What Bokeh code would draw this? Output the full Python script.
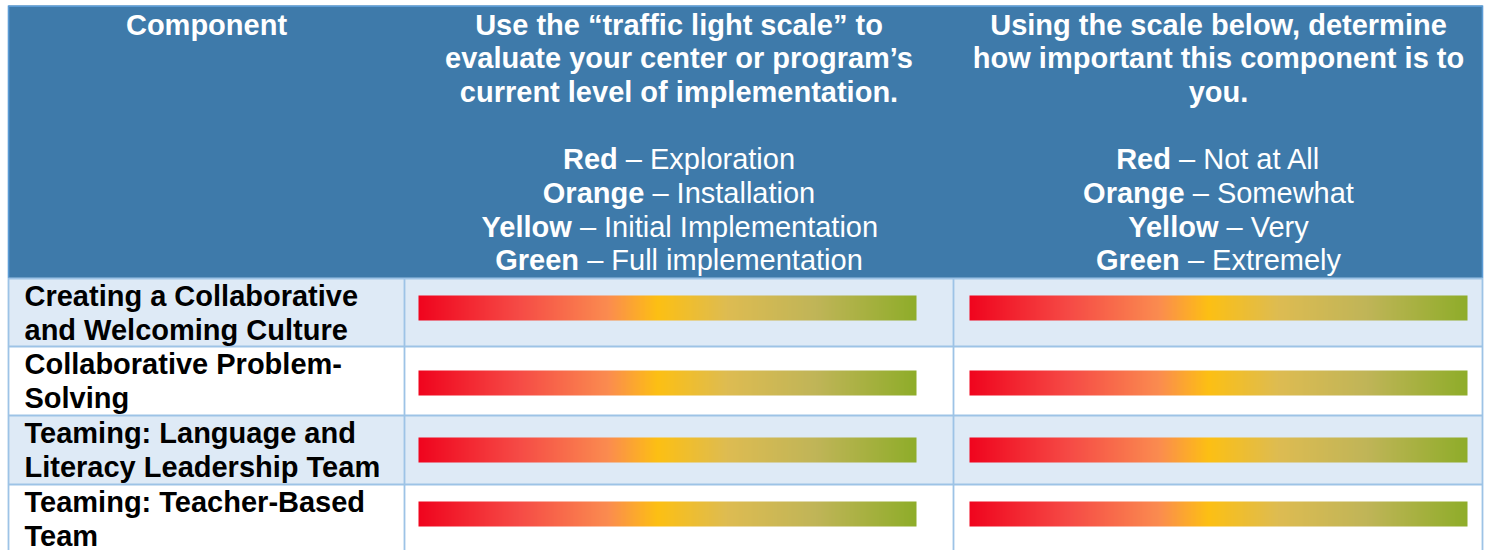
import numpy as np
from bokeh.plotting import figure
from bokeh.models import Range1d
from bokeh.embed import file_html
from bokeh.resources import INLINE
from bokeh.core.properties import value

# ---------------- data ----------------
header_component = "Component"
header_level = ["Use the \u201ctraffic light scale\u201d to",
                "evaluate your center or program\u2019s",
                "current level of implementation."]
header_importance = ["Using the scale below, determine",
                     "how important this component is to",
                     "you."]
scale_colors = ["Red", "Orange", "Yellow", "Green"]
level_labels = ["Exploration", "Installation", "Initial Implementation", "Full implementation"]
importance_labels = ["Not at All", "Somewhat", "Very", "Extremely"]
components = ["Creating a Collaborative\nand Welcoming Culture",
              "Collaborative Problem-\nSolving",
              "Teaming: Language and\nLiteracy Leadership Team",
              "Teaming: Teacher-Based\nTeam"]

# ---------------- styling / layout ----------------
FONT = value("Liberation Sans")
FS = 29
HEADER_BG = "#3E7AAA"
HEADER_EDGE = "#5B9BD5"
ROW_BG = ["#DEEAF6", "#FFFFFF"]
GRID = "#9DC3E6"
col_edges = [8, 404, 953, 1482]
header_top, header_bottom = 5, 278
row_h = [68, 69, 69, 69]
bar_offsets = [17, 24, 22, 17]
bar_h = 25
bar_x = [(418, 916), (969, 1467)]
line_gap = 33.7
TEXT_DY = -10
W, H = 1487, 550

# Arial/Liberation Sans advance widths (1/1000 em)
_lc = "abcdefghijklmnopqrstuvwxyz"
_uc = "ABCDEFGHIJKLMNOPQRSTUVWXYZ"
REG = dict(zip(_lc, [556,556,500,556,556,278,556,556,222,222,500,222,833,556,556,556,556,333,500,278,556,500,722,500,500,500]))
REG.update(zip(_uc, [667,667,722,722,667,611,778,722,278,500,667,556,833,722,778,667,778,722,667,611,722,667,944,667,667,611]))
REG.update({" ": 278, "\u2013": 556, ".": 278, ",": 278, "-": 333, ":": 278})
BOLD = dict(zip(_lc, [556,611,556,611,556,333,611,611,278,278,556,278,889,611,611,611,611,389,556,333,611,556,778,556,556,500]))
BOLD.update(zip(_uc, [722,722,722,722,667,611,778,722,278,556,722,611,833,722,778,667,778,722,667,611,722,667,944,667,667,611]))
BOLD.update({" ": 278, "\u2013": 556, ".": 278, ",": 278, "-": 333, ":": 333})


def tw(s, table):
    return sum(table.get(c, 556) for c in s) * FS / 1000.0


def Y(py):
    return -py


def TY(py):
    return -(py + TEXT_DY)


p = figure(width=W, height=H, x_range=Range1d(0, W), y_range=Range1d(-H, 0),
           toolbar_location=None, output_backend="svg", x_axis_type=None, y_axis_type=None,
           min_border=0, outline_line_color=None, background_fill_color="white",
           border_fill_color="white")
p.grid.visible = False

# header background
p.quad(left=[col_edges[0]], right=[col_edges[-1]], top=[Y(header_top)], bottom=[Y(header_bottom)],
       fill_color=HEADER_BG, line_color=None)

# row backgrounds
row_edges = [header_bottom]
for h in row_h:
    row_edges.append(row_edges[-1] + h)
nrow = len(components)
p.quad(left=[col_edges[0]] * nrow, right=[col_edges[-1]] * nrow,
       top=[Y(row_edges[i]) for i in range(nrow)],
       bottom=[Y(row_edges[i + 1]) for i in range(nrow)],
       fill_color=[ROW_BG[i % 2] for i in range(nrow)], line_color=None)

# header outline (top, left, right)
p.multi_line(xs=[[col_edges[0], col_edges[-1]], [col_edges[0], col_edges[0]], [col_edges[-1], col_edges[-1]]],
             ys=[[Y(header_top + 0.8), Y(header_top + 0.8)], [Y(header_top), Y(header_bottom)],
                 [Y(header_top), Y(header_bottom)]],
             line_color=HEADER_EDGE, line_width=1.6)

# grid lines
xs, ys = [], []
for r in row_edges[:-1]:
    xs.append([col_edges[0], col_edges[-1]]); ys.append([Y(r), Y(r)])
for c in col_edges:
    xs.append([c, c]); ys.append([Y(header_bottom), Y(row_edges[-1] + 10)])
p.multi_line(xs=xs, ys=ys, line_color=GRID, line_width=1.8)

# gradient (traffic light) bars
stop_pos = [0.0, 0.2, 0.38, 0.48, 0.62, 0.8, 1.0]
stop_rgb = [(240, 5, 30), (246, 75, 70), (251, 140, 80), (253, 192, 20),
            (222, 188, 82), (192, 181, 88), (143, 173, 42)]
n = 600
t = np.linspace(0, 1, n)
img = np.empty((1, n), dtype=np.uint32)
view = img.view(dtype=np.uint8).reshape((1, n, 4))
for k in range(3):
    view[0, :, k] = np.interp(t, stop_pos, [c[k] for c in stop_rgb]).astype(np.uint8)
view[0, :, 3] = 255

bx, by, bw = [], [], []
for i in range(nrow):
    top = row_edges[i] + bar_offsets[i]
    for (x0, x1) in bar_x:
        bx.append(x0); by.append(Y(top + bar_h)); bw.append(x1 - x0)
p.image_rgba(image=[img] * len(bx), x=bx, y=by, dw=bw, dh=[bar_h] * len(bx))

# header texts
cx = [(col_edges[i] + col_edges[i + 1]) / 2 for i in range(3)]
cx[2] = 1218
base0 = 34
hx, hy, ht = [cx[0]], [TY(base0)], [header_component]
for j, s in enumerate(header_level):
    hx.append(cx[1]); hy.append(TY(base0 + j * line_gap)); ht.append(s)
for j, s in enumerate(header_importance):
    hx.append(cx[2]); hy.append(TY(base0 + j * line_gap)); ht.append(s)
p.text(x=hx, y=hy, text=ht, text_font=FONT, text_font_size=f"{FS}px", text_font_style="bold",
       text_color="white", text_align="center", text_baseline="alphabetic")

# scale legend lines (bold colour word + regular description)
bxs, bys, bts, rxs, rys, rts = [], [], [], [], [], []
for col, labels in ((1, level_labels), (2, importance_labels)):
    for j, (cname, lab) in enumerate(zip(scale_colors, labels)):
        rest = "\u2013 " + lab
        wb = tw(cname, BOLD)
        wsp = tw(" ", REG)
        wr = tw(rest, REG)
        total = wb + wsp + wr
        start = cx[col] - total / 2
        yb = TY(base0 + (4 + j) * line_gap)
        bxs.append(start + wb); bys.append(yb); bts.append(cname)
        rxs.append(start + wb + wsp); rys.append(yb); rts.append(rest)
p.text(x=bxs, y=bys, text=bts, text_font=FONT, text_font_size=f"{FS}px", text_font_style="bold",
       text_color="white", text_align="right", text_baseline="alphabetic")
p.text(x=rxs, y=rys, text=rts, text_font=FONT, text_font_size=f"{FS}px", text_font_style="normal",
       text_color="white", text_align="left", text_baseline="alphabetic")

# component labels
lx, ly, lt = [], [], []
for i, comp in enumerate(components):
    for j, line in enumerate(comp.split("\n")):
        lx.append(24); ly.append(TY(row_edges[i] + 27.5 + j * 33.5)); lt.append(line)
p.text(x=lx, y=ly, text=lt, text_font=FONT, text_font_size=f"{FS}px", text_font_style="bold",
       text_color="black", text_align="left", text_baseline="alphabetic")

open("out.html", "w").write(file_html(p, INLINE))
